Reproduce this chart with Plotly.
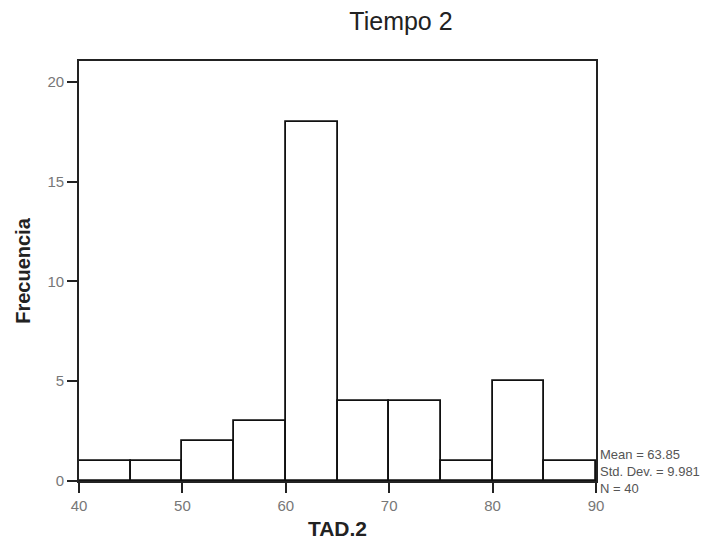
import plotly.graph_objects as go

bin_starts = [40, 45, 50, 55, 60, 65, 70, 75, 80, 85]
counts = [1, 1, 2, 3, 18, 4, 4, 1, 5, 1]
bin_width = 5
x_ticks = [40, 50, 60, 70, 80, 90]
y_ticks = [0, 5, 10, 15, 20]
stats_lines = ["Mean = 63.85", "Std. Dev. = 9.981", "N = 40"]

mids = [s + bin_width / 2 for s in bin_starts]

fig = go.Figure()
fig.add_trace(go.Bar(
    x=mids, y=counts, width=[bin_width] * len(mids),
    marker=dict(color="white", line=dict(color="#111", width=1.8)),
    showlegend=False, hoverinfo="x+y"))

font_family = "Liberation Sans, Arial, sans-serif"
# page body has a default 8px offset; margins compensate
fig.update_layout(
    width=728, height=542,
    margin=dict(l=71, r=140, t=53, b=69, autoexpand=False),
    paper_bgcolor="white", plot_bgcolor="white",
    font=dict(family=font_family, color="#222"),
    bargap=0,
    title=dict(text="Tiempo 2", x=393 / 728, xanchor="center", y=1 - 13 / 542, yanchor="middle",
               font=dict(size=25, color="#222", family=font_family)),
    xaxis=dict(range=[40, 90], tickvals=x_ticks, ticks="outside", ticklen=10, tickwidth=1.5,
               tickcolor="#222", showline=True, linecolor="#222", linewidth=1.8, mirror=True,
               showgrid=False, zeroline=False, automargin=False,
               tickfont=dict(size=15, color="#777"),
               title=dict(text="<b>TAD.2</b>", font=dict(size=21, color="#222"), standoff=8)),
    yaxis=dict(range=[0, 21.05], tickvals=y_ticks, ticks="outside", ticklen=10, tickwidth=1.5,
               tickcolor="#222", showline=True, linecolor="#222", linewidth=1.8, mirror=True,
               showgrid=False, zeroline=False, automargin=False,
               tickfont=dict(size=15, color="#777"),
               title=dict(text="<b>Frecuencia</b>", font=dict(size=20, color="#222"), standoff=11)),
)

fig.add_annotation(
    text="<br>".join(stats_lines), xref="paper", yref="paper",
    x=1.0, y=0.0, xanchor="left", yanchor="middle", align="left", showarrow=False,
    xshift=2, yshift=10,
    font=dict(size=13, color="#555", family=font_family))

fig.write_html("out.html")
